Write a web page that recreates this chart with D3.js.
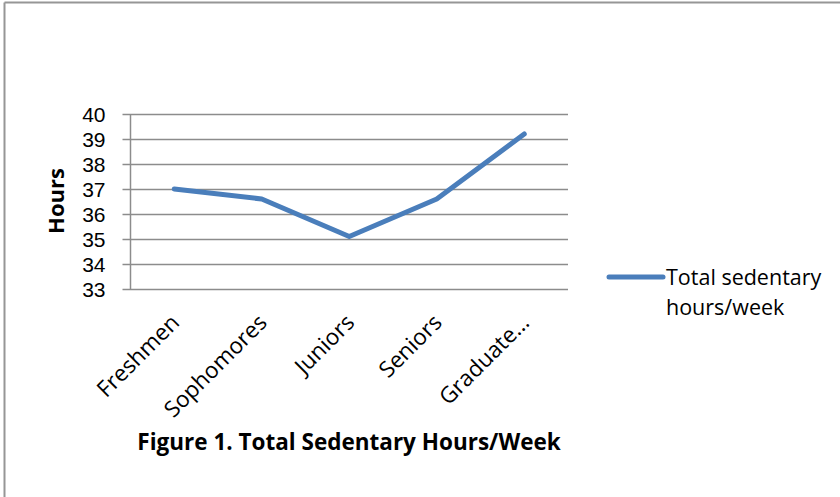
<!DOCTYPE html>
<html>
<head>
<meta charset="utf-8">
<script src="https://cdn.jsdelivr.net/npm/d3@7"></script>
<style>
  html, body { margin: 0; padding: 0; background: #fff; }
  svg { display: block; }
  text { font-family: "Open Sans", "Noto Sans", sans-serif; fill: #000; }
</style>
</head>
<body>
<script>
const categories = ["Freshmen", "Sophomores", "Juniors", "Seniors", "Graduate…"];
const values = [37.0, 36.6, 35.1, 36.6, 39.2];
const yTicks = [33, 34, 35, 36, 37, 38, 39, 40];
const seriesName = ["Total sedentary", "hours/week"];
const yTitle = "Hours";
const chartTitle = "Figure 1. Total Sedentary Hours/Week";

const W = 840, H = 497;
const svg = d3.select("body").append("svg").attr("width", W).attr("height", H);

// outer frame (top & left visible)
svg.append("line").attr("x1", 4.5).attr("y1", 2.5).attr("x2", W).attr("y2", 2.5)
  .attr("stroke", "#969696").attr("stroke-width", 2);
svg.append("line").attr("x1", 4.5).attr("y1", 2.5).attr("x2", 4.5).attr("y2", H)
  .attr("stroke", "#969696").attr("stroke-width", 2);

const plot = { left: 130.5, right: 568, top: 114, bottom: 289 };
const x = d3.scalePoint().domain(categories).range([plot.left, plot.right]).padding(0.5);
const y = d3.scaleLinear().domain([33, 40]).range([plot.bottom, plot.top]);

// gridlines via axis
const yAxis = d3.axisLeft(y).tickValues(yTicks).tickSize(-(plot.right - plot.left)).tickPadding(0).tickFormat("");
const gGrid = svg.append("g").attr("transform", `translate(${plot.left},0)`).call(yAxis);
gGrid.select(".domain").remove();
gGrid.selectAll(".tick line").attr("stroke", "#8c8c8c").attr("stroke-width", 1.5).attr("x1", -8);

// y axis line
svg.append("line").attr("x1", plot.left).attr("x2", plot.left)
  .attr("y1", plot.top).attr("y2", plot.bottom)
  .attr("stroke", "#8c8c8c").attr("stroke-width", 1.5);

// y tick labels
const yLab = d3.axisLeft(y).tickValues(yTicks).tickSize(0).tickPadding(25).tickFormat(d3.format("d"));
const gY = svg.append("g").attr("transform", `translate(${plot.left},0)`).call(yLab);
gY.select(".domain").remove();
gY.selectAll("text").style("font-family", '"Liberation Sans", Arial, sans-serif').style("font-size", "21px").attr("fill", "#000").attr("dy", "0.36em");

// x labels
const xAxis = d3.axisBottom(x).tickSize(0).tickPadding(0);
const gX = svg.append("g").attr("transform", `translate(0,${plot.bottom})`).call(xAxis);
gX.select(".domain").remove();
gX.selectAll("text")
  .style("font-family", '"Open Sans", sans-serif').style("font-size", "22.5px").attr("fill", "#000")
  .attr("text-anchor", "end")
  .attr("dy", null).attr("y", 0)
  .attr("transform", "translate(6,35) rotate(-45)");

// y title
svg.append("text").attr("transform", "translate(64,201) rotate(-90)")
  .attr("text-anchor", "middle").style("font-size", "22px").style("font-weight", "bold").text(yTitle);

// line
const line = d3.line().x((d, i) => x(categories[i])).y(d => y(d));
svg.append("path").datum(values).attr("d", line)
  .attr("fill", "none").attr("stroke", "#4a7ebb").attr("stroke-width", 5)
  .attr("stroke-linecap", "round").attr("stroke-linejoin", "round");

// legend
svg.append("line").attr("x1", 609).attr("x2", 663).attr("y1", 277).attr("y2", 277)
  .attr("stroke", "#4a7ebb").attr("stroke-width", 5).attr("stroke-linecap", "round");
svg.selectAll(".leg").data(seriesName).enter().append("text")
  .attr("x", 666).attr("y", (d, i) => 285 + i * 30)
  .style("font-size", "21.5px").text(d => d);

// title
svg.append("text").attr("x", 349).attr("y", 450).attr("text-anchor", "middle")
  .style("font-size", "22.5px").style("font-weight", "bold").text(chartTitle);
</script>
</body>
</html>
